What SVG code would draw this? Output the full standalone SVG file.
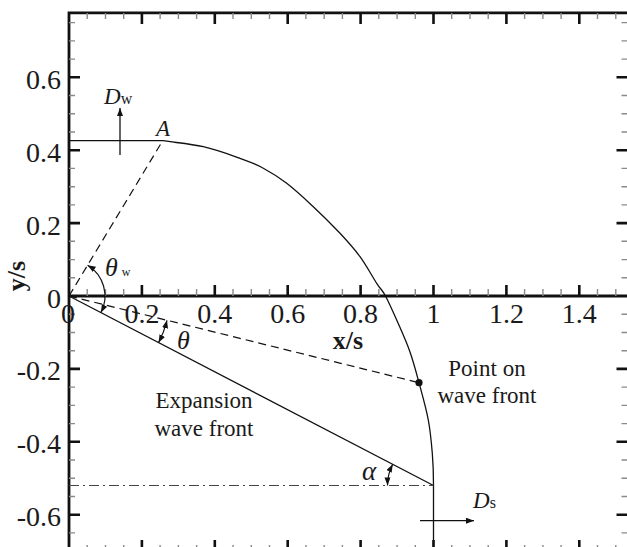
<svg xmlns="http://www.w3.org/2000/svg" width="627" height="547" viewBox="0 0 627 547">
<defs>
<style>
.lbl{font-family:"Liberation Serif","Times New Roman",serif;font-size:28px;fill:#1a1a1a}
.ax{font-family:"Liberation Serif","Times New Roman",serif;font-size:26px;font-weight:bold;fill:#1a1a1a}
.it{font-family:"Liberation Serif","Times New Roman",serif;font-style:italic;fill:#1a1a1a}
.txt{font-family:"Liberation Serif","Times New Roman",serif;font-size:23px;fill:#1a1a1a}
.major{stroke:#111;stroke-width:2.6;fill:none}
.minor{stroke:#8a8a8a;stroke-width:1.4;fill:none}
.frame{stroke:#111;stroke-width:2.8;fill:none}
.solid{stroke:#111;stroke-width:1.3;fill:none}
.dash{stroke:#111;stroke-width:1.2;fill:none;stroke-dasharray:8 5}
.dashdot{stroke:#444;stroke-width:1.1;fill:none;stroke-dasharray:10 4 2 4}
.arc{stroke:#111;stroke-width:1.2;fill:none;marker-start:url(#ah);marker-end:url(#ah)}
.arr{stroke:#111;stroke-width:1.3;fill:none;marker-end:url(#ah)}
</style>
<marker id="ah" viewBox="0 0 8 6" refX="8" refY="3" markerWidth="8" markerHeight="6" markerUnits="userSpaceOnUse" orient="auto-start-reverse">
<path d="M0,0 L8,3 L0,6 z" fill="#111"/>
</marker>
</defs>
<rect width="627" height="547" fill="#fff"/>

<g id="axes">
<path class="frame" d="M69,12.8 V551 M67.6,12.8 H640 M69,296 H640"/>
<path class="major" d="M141.9,13 V24 M214.8,13 V24 M287.7,13 V24 M360.6,13 V24 M433.5,13 V24 M506.4,13 V24 M579.3,13 V24"/>
<path class="minor" d="M87.2,13 V19 M105.5,13 V19 M123.7,13 V19 M160.1,13 V19 M178.4,13 V19 M196.6,13 V19 M233,13 V19 M251.3,13 V19 M269.5,13 V19 M305.9,13 V19 M324.2,13 V19 M342.4,13 V19 M378.8,13 V19 M397.1,13 V19 M415.3,13 V19 M451.7,13 V19 M470,13 V19 M488.2,13 V19 M524.6,13 V19 M542.9,13 V19 M561.1,13 V19 M597.5,13 V19 M615.8,13 V19"/>
<path class="major" d="M141.9,296 V285 M214.8,296 V285 M287.7,296 V285 M360.6,296 V285 M433.5,296 V285 M506.4,296 V285 M579.3,296 V285"/>
<path class="minor" d="M87.2,296 V289 M105.5,296 V289 M123.7,296 V289 M160.1,296 V289 M178.4,296 V289 M196.6,296 V289 M233,296 V289 M251.3,296 V289 M269.5,296 V289 M305.9,296 V289 M324.2,296 V289 M342.4,296 V289 M378.8,296 V289 M397.1,296 V289 M415.3,296 V289 M451.7,296 V289 M470,296 V289 M488.2,296 V289 M524.6,296 V289 M542.9,296 V289 M561.1,296 V289 M597.5,296 V289 M615.8,296 V289"/>
<path class="major" d="M141.9,551 V540 M214.8,551 V540 M287.7,551 V540 M360.6,551 V540 M433.5,551 V540 M506.4,551 V540 M579.3,551 V540"/>
<path class="minor" d="M87.2,551 V545 M105.5,551 V545 M123.7,551 V545 M160.1,551 V545 M178.4,551 V545 M196.6,551 V545 M233,551 V545 M251.3,551 V545 M269.5,551 V545 M305.9,551 V545 M324.2,551 V545 M342.4,551 V545 M378.8,551 V545 M397.1,551 V545 M415.3,551 V545 M451.7,551 V545 M470,551 V545 M488.2,551 V545 M524.6,551 V545 M542.9,551 V545 M561.1,551 V545 M597.5,551 V545 M615.8,551 V545"/>
<path class="major" d="M69,77.3 H80 M69,150.2 H80 M69,223.1 H80 M69,368.9 H80 M69,441.8 H80 M69,514.7 H80"/>
<path class="minor" d="M69,22.6 H75 M69,40.9 H75 M69,59.1 H75 M69,95.5 H75 M69,113.8 H75 M69,132 H75 M69,168.4 H75 M69,186.7 H75 M69,204.9 H75 M69,241.3 H75 M69,259.6 H75 M69,277.8 H75 M69,314.2 H75 M69,332.5 H75 M69,350.7 H75 M69,387.1 H75 M69,405.4 H75 M69,423.6 H75 M69,460 H75 M69,478.3 H75 M69,496.5 H75 M69,532.9 H75"/>
<path class="major" d="M628,77.3 H616.5 M628,150.2 H616.5 M628,223.1 H616.5 M628,368.9 H616.5 M628,441.8 H616.5 M628,514.7 H616.5"/>
<path class="minor" d="M628,22.6 H621.5 M628,40.9 H621.5 M628,59.1 H621.5 M628,95.5 H621.5 M628,113.8 H621.5 M628,132 H621.5 M628,168.4 H621.5 M628,186.7 H621.5 M628,204.9 H621.5 M628,241.3 H621.5 M628,259.6 H621.5 M628,277.8 H621.5 M628,314.2 H621.5 M628,332.5 H621.5 M628,350.7 H621.5 M628,387.1 H621.5 M628,405.4 H621.5 M628,423.6 H621.5 M628,460 H621.5 M628,478.3 H621.5 M628,496.5 H621.5 M628,532.9 H621.5"/>
<g class="lbl" text-anchor="end">
<text x="61" y="88.8">0.6</text>
<text x="61" y="161.7">0.4</text>
<text x="61" y="234.6">0.2</text>
<text x="61" y="307.5">0</text>
<text x="61" y="380.4">-0.2</text>
<text x="61" y="453.3">-0.4</text>
<text x="61" y="526.2">-0.6</text>
</g>
<g class="lbl" text-anchor="middle">
<text x="68" y="323">0</text>
<text x="141.9" y="323">0.2</text>
<text x="214.8" y="323">0.4</text>
<text x="287.7" y="323">0.6</text>
<text x="360.6" y="323">0.8</text>
<text x="433.5" y="323">1</text>
<text x="506.4" y="323">1.2</text>
<text x="579.3" y="323">1.4</text>
</g>
<text class="ax" x="348" y="349" text-anchor="middle">x/s</text>
<text class="ax" transform="translate(25,276) rotate(-90)" text-anchor="middle">y/s</text>
</g>

<g id="connectors">
<path class="solid" d="M69,140.7 H162.7 C176.2,142.7 190.4,143.8 203.3,146.7 C216.2,149.6 230.2,154.8 240,158.3 C249.8,161.8 254.2,163.3 262,167.5 C269.8,171.7 278.15,176.8 286.7,183.3 C295.25,189.8 304.4,198.4 313.3,206.7 C322.2,215 332.2,225 340,233.3 C347.8,241.6 353.9,248.4 360,256.7 C366.1,265 372.45,276.75 376.7,283.3 C380.95,289.85 381.95,289.4 385.5,296 C389.05,302.6 393.9,313.7 398,323 C402.1,332.3 406.5,342.05 410,352 C413.5,361.95 415.95,371.4 419,382.7 C422.05,394 426.1,408.2 428.3,420 C430.5,431.8 431.4,442.4 432.3,453.3 C433.2,464.2 433.5,474.8 433.5,485.5 V550"/>
<path class="dash" d="M69,296 L162.7,140.7"/>
<path class="dash" d="M69,296 L419,382.7"/>
<path class="solid" d="M69,296 L433.5,485.5"/>
<path class="dashdot" d="M69,485.5 H433.5"/>
<path class="arc" d="M87.6,265.2 A36,36 0 0 1 100.9,312.6"/>
<path class="arc" d="M167,320.3 A101,101 0 0 1 158.6,342.6"/>
<path class="arc" d="M392.7,464.3 A46,46 0 0 0 387.5,485.5"/>
<path class="arr" d="M120,155 V108"/>
<path class="arr" d="M420,520.7 H474"/>
<circle cx="419" cy="382.7" r="3.6" fill="#111"/>
</g>

<g id="labels">
<text class="it" x="104" y="104" font-size="23">D<tspan font-style="normal" font-size="16">w</tspan></text>
<text class="it" x="156" y="136" font-size="23">A</text>
<text class="it" x="105" y="276" font-size="26">θ<tspan font-style="normal" font-size="12" dx="4">w</tspan></text>
<text class="it" x="177" y="349" font-size="26">θ</text>
<text class="it" x="362" y="480" font-size="27">α</text>
<text class="it" x="473" y="508" font-size="23">D<tspan font-style="normal" font-size="16">s</tspan></text>
<text class="txt" x="487" y="376" text-anchor="middle">Point on</text>
<text class="txt" x="487" y="403.3" text-anchor="middle">wave front</text>
<text class="txt" x="204" y="408.3" text-anchor="middle">Expansion</text>
<text class="txt" x="204" y="435.7" text-anchor="middle">wave front</text>
</g>
</svg>
